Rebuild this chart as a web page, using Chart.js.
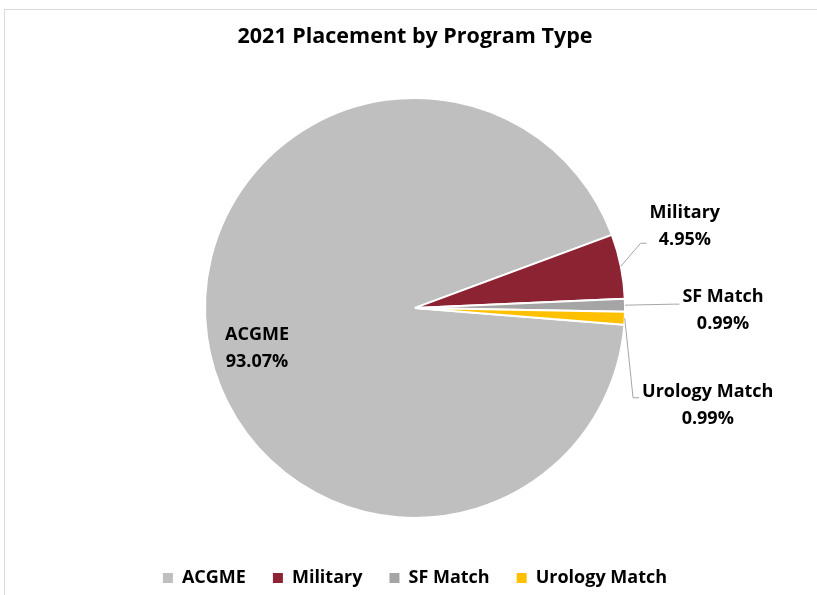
<!DOCTYPE html>
<html>
<head>
<meta charset="utf-8">
<script src="https://cdn.jsdelivr.net/npm/chart.js@4/dist/chart.umd.min.js"></script>
<style>
    html, body { margin: 0; padding: 0; background: #fff; overflow: hidden; width: 817px; height: 595px; }
    #frame { position: absolute; left: 4px; top: 9px; width: 900px; height: 700px; border: 1px solid #d9d9d9; }
    #grafico { position: absolute; left: 0; top: 0; }
</style>
</head>
<body>
<div id="frame"></div>
<canvas id="grafico" width="817" height="597"></canvas>
<script>
// Dados do gráfico
const categorias = ['ACGME', 'Military', 'SF Match', 'Urology Match'];
const vagas = [94, 5, 1, 1];
const cores = ['#BFBFBF', '#8B2332', '#A5A5A5', '#FFC000'];

// Onde cada rótulo fica, relativo ao ponto da fatia
const posRotulos = [
    { rf: 0.75, dx: -2, dy: 19, dentro: true },
    { rf: 1, dx: 64, dy: -40, linhaY: 17 },
    { rf: 1, dx: 98, dy: 5, linhaY: -6 },
    { rf: 1, dx: 83, dy: 87, linhaY: -7.5 }
];

const fonte = '"Open Sans", Lato, sans-serif';

const rotulosPlugin = {
    id: 'rotulos',
    afterDatasetsDraw(chart) {
        const ctx = chart.ctx;
        const meta = chart.getDatasetMeta(0);
        const dados = chart.data.datasets[0].data;
        const total = dados.reduce((a, b) => a + b, 0);
        ctx.save();
        ctx.font = 'bold 18px ' + fonte;
        ctx.textAlign = 'center';
        ctx.textBaseline = 'middle';
        meta.data.forEach((arc, i) => {
            const p = arc.getProps(['x', 'y', 'startAngle', 'endAngle', 'outerRadius'], true);
            const meio = (p.startAngle + p.endAngle) / 2;
            const pos = posRotulos[i];
            const ax = p.x + Math.cos(meio) * p.outerRadius * pos.rf;
            const ay = p.y + Math.sin(meio) * p.outerRadius * pos.rf;
            const cx = ax + pos.dx;
            const cy = ay + pos.dy;
            const linhas = [chart.data.labels[i], (dados[i] / total * 100).toFixed(2) + '%'];
            if (!pos.dentro) {
                const larg = Math.max(...linhas.map(t => ctx.measureText(t).width));
                const fimX = cx - larg / 2 - 3;
                const fimY = cy + pos.linhaY;
                ctx.strokeStyle = '#A6A6A6';
                ctx.lineWidth = 1;
                ctx.beginPath();
                ctx.moveTo(ax, ay);
                ctx.lineTo(fimX - 6, fimY);
                ctx.lineTo(fimX, fimY);
                ctx.stroke();
            }
            ctx.fillStyle = '#000';
            ctx.fillText(linhas[0], cx, cy - 13.5);
            ctx.fillText(linhas[1], cx, cy + 13.5);
        });
        ctx.restore();
    }
};

new Chart(document.getElementById('grafico'), {
    type: 'pie',
    data: {
        labels: categorias,
        datasets: [{
            data: vagas,
            backgroundColor: cores,
            borderColor: '#fff',
            borderWidth: 2
        }]
    },
    options: {
        responsive: false,
        animation: false,
        rotation: 94.6,
        radius: 210,
        layout: { padding: { left: 13, right: 0, top: 0, bottom: 0 } },
        plugins: {
            title: {
                display: true,
                text: '2021 Placement by Program Type',
                color: '#000',
                font: { family: fonte, size: 21.5, weight: 'bold' },
                padding: { top: 24, bottom: 24 }
            },
            legend: {
                position: 'bottom',
                labels: {
                    color: '#000',
                    font: { family: fonte, size: 18, weight: 'bold' },
                    boxWidth: 10,
                    boxHeight: 10,
                    padding: 27,
                    generateLabels: chart => Chart.overrides.pie.plugins.legend.labels.generateLabels(chart)
                        .map(l => ({ ...l, lineWidth: 0, strokeStyle: l.fillStyle }))
                }
            },
            tooltip: { enabled: false }
        }
    },
    plugins: [rotulosPlugin]
});
</script>
</body>
</html>
